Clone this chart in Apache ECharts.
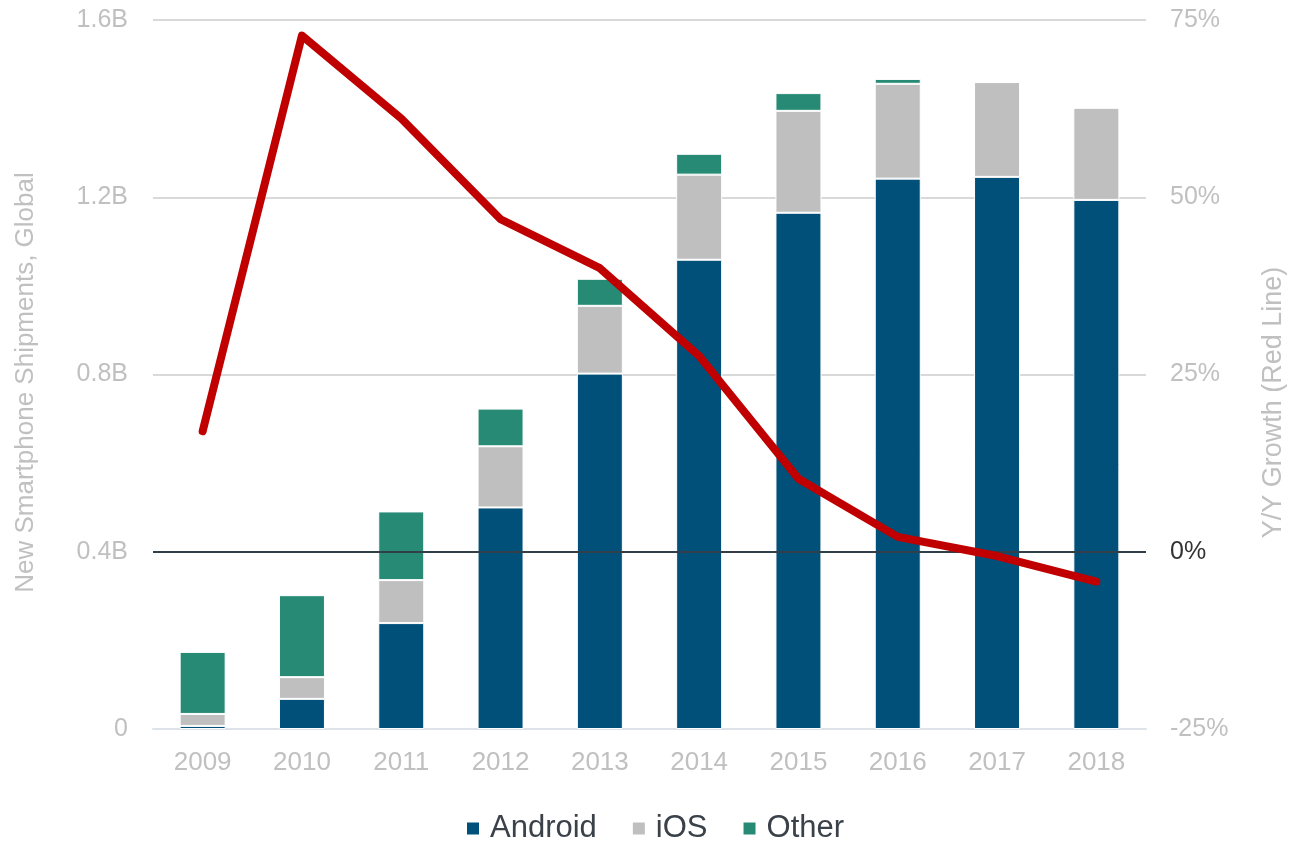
<!DOCTYPE html>
<html>
<head>
<meta charset="utf-8">
<script src="https://cdn.jsdelivr.net/npm/echarts@6/dist/echarts.min.js"></script>
<style>
  html, body { margin: 0; padding: 0; background: #fff; }
  #chart { width: 1289px; height: 842px; }
</style>
</head>
<body>
<div id="chart"></div>
<script>
// Years on the x axis
const years = ['2009', '2010', '2011', '2012', '2013', '2014', '2015', '2016', '2017', '2018'];

// Shipments in billions
const android = [0.007, 0.068, 0.239, 0.500, 0.802, 1.059, 1.165, 1.242, 1.246, 1.194];
const ios     = [0.027, 0.049, 0.097, 0.138, 0.153, 0.192, 0.230, 0.214, 0.214, 0.208];
const other   = [0.140, 0.185, 0.155, 0.085, 0.061, 0.047, 0.040, 0.011, 0, 0];

// Y/Y growth in percent (red line)
const growth = [17.0, 72.8, 61.1, 46.9, 40.0, 27.6, 10.3, 2.1, -0.6, -4.2];

const FONT = '"Liberation Sans", Arial, sans-serif';
const LIGHT = '#c0c0c0';

const chart = echarts.init(document.getElementById('chart'));

const barSeries = (name, data, color) => ({
    name: name,
    type: 'bar',
    stack: 'total',
    data: data,
    barWidth: 46,
    itemStyle: { color: color, borderColor: '#fff', borderWidth: 1 },
    emphasis: { disabled: true }
});

chart.setOption({
    animation: false,
    grid: { left: 153, right: 143, top: 20, bottom: 113, outerBoundsMode: 'none' },
    legend: {
        top: 808,
        left: 460,
        data: ['Android', 'iOS', 'Other'],
        icon: 'rect',
        itemWidth: 14,
        itemHeight: 14,
        itemGap: 34,
        textStyle: { fontFamily: FONT, fontSize: 31, color: '#3a4149', padding: [0, 0, 0, 5] }
    },
    xAxis: {
        type: 'category',
        data: years,
        axisLine: { lineStyle: { color: '#dde3e8', width: 2 } },
        axisTick: { show: false },
        axisLabel: { fontFamily: FONT, fontSize: 26, color: LIGHT, margin: 21 }
    },
    yAxis: [
        {
            type: 'value',
            min: 0, max: 1.6, interval: 0.4,
            name: 'New Smartphone Shipments, Global',
            nameLocation: 'middle',
            nameGap: 114,
            nameTextStyle: { fontFamily: FONT, fontSize: 26, color: LIGHT, padding: [0, 16, 0, 0] },
            axisLabel: {
                fontFamily: FONT, fontSize: 25, color: LIGHT, margin: 25,
                formatter: v => v === 0 ? '0' : v.toFixed(1) + 'B'
            },
            splitLine: { lineStyle: { color: '#d9d9d9', width: 2 } }
        },
        {
            type: 'value',
            min: -25, max: 75, interval: 25,
            name: 'Y/Y Growth (Red Line)',
            nameLocation: 'middle',
            nameGap: 114,
            nameTextStyle: { fontFamily: FONT, fontSize: 27, color: LIGHT, padding: [0, 56, 0, 0] },
            axisLabel: {
                fontFamily: FONT, fontSize: 25, color: LIGHT, margin: 24,
                formatter: v => (Number(v) === 0 ? '{zero|0%}' : v + '%'),
                rich: { zero: { fontFamily: FONT, fontSize: 25, color: '#333' } }
            },
            splitLine: { show: false }
        }
    ],
    series: [
        barSeries('Android', android, '#00507a'),
        barSeries('iOS', ios, '#bfbfbf'),
        barSeries('Other', other, '#268a74'),
        {
            name: 'Growth',
            type: 'line',
            yAxisIndex: 1,
            data: growth,
            symbol: 'none',
            z: 5,
            lineStyle: { color: '#c00000', width: 8, cap: 'round', join: 'round' },
            markLine: {
                silent: true,
                symbol: 'none',
                label: { show: false },
                lineStyle: { color: '#333f48', width: 2, type: 'solid' },
                data: [{ yAxis: 0 }]
            }
        }
    ]
});
</script>
</body>
</html>
